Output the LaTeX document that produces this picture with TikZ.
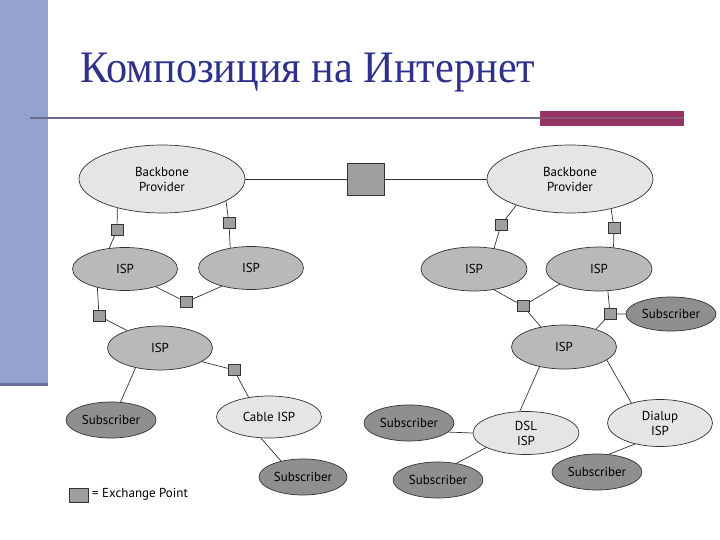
\documentclass[tikz,border=0pt]{standalone}
\usepackage{fontspec}
\setmainfont{Liberation Serif}
\newfontfamily\diagfont{PT Sans}
\usetikzlibrary{shapes.geometric}
\definecolor{barblue}{RGB}{148,162,206}
\definecolor{bardark}{RGB}{107,111,160}
\definecolor{rulegray}{RGB}{107,107,142}
\definecolor{rulered}{RGB}{148,50,100}
\definecolor{titleblue}{RGB}{46,49,140}
\begin{document}
\begin{tikzpicture}[x=1pt,y=-1pt,font=\diagfont\fontsize{13}{15}\selectfont]
\tikzstyle{e}=[ellipse,draw=black!80,line width=0.7pt,inner sep=0pt,align=center]
\tikzstyle{bb}=[e,fill=gray!20,minimum width=166pt,minimum height=68pt]
\tikzstyle{isp}=[e,fill=gray!55,minimum width=105pt,minimum height=43pt]
\tikzstyle{lt}=[e,fill=gray!20,minimum width=105pt,minimum height=43pt]
\tikzstyle{sub}=[e,fill=gray!88,minimum width=90pt,minimum height=36pt]
\tikzstyle{xp}=[draw=black!80,line width=0.6pt,fill=gray!75,minimum width=12pt,minimum height=11pt,inner sep=0pt]
\tikzstyle{w}=[draw=black!80,line width=0.7pt]
\useasboundingbox (0,0) rectangle (720,540);
% slide frame
\fill[barblue] (0,0) rectangle (48,383);
\fill[bardark] (0,383) rectangle (48,386);
\draw[rulegray,line width=2.5pt] (30,118) -- (540,118);
\fill[rulered] (540,111) rectangle (684,126);
\draw[rulered!55!gray,line width=2pt] (540,118) -- (684,118);
\node[font=\rmfamily\fontsize{45}{50}\selectfont,text=titleblue,anchor=base west,inner sep=0pt,xscale=0.94,transform shape] (title) at (80,83) {Композиция на Интернет};
% backbones
\node[bb] (bl) at (162,179) {Backbone\\Provider};
\node[bb] (br) at (570,179) {Backbone\\Provider};
\node[xp,minimum width=37pt,minimum height=32pt] (ex) at (366,179) {};
\draw[w] (bl.east) -- (ex) -- (br.west);
% exchange points
\foreach \n/\x/\y in {xa/117/230,xb/229/223,xc/186/302,xd/99/316,xe/234/370,xf/501/225,xg/614/228,xh/523/306,xi/610/314}
  \node[xp] (\n) at (\x,\y) {};
% left side
\node[isp] (i1) at (125,269) {ISP};
\node[isp] (i2) at (251,268) {ISP};
\node[isp,minimum height=44pt] (i3) at (160,348) {ISP};
\node[lt,minimum height=42pt] (cab) at (269,417) {Cable ISP};
\node[sub] (s1) at (111,420) {Subscriber};
\node[sub,minimum width=88pt] (s2) at (303,477) {Subscriber};
\draw[w] (bl.213) -- (xa) -- (i1.127);
\draw[w] (bl.341) -- (xb) -- (i2.136);
\draw[w] (i1.330) -- (xc) -- (i2.212);
\draw[w] (i1.214) -- (xd) -- (i3.152);
\draw[w] (i3.342) -- (xe) -- (cab.136);
\draw[w] (i3.219) -- (s1.62);
\draw[w] (cab.249) -- (s2.144);
% right side
\node[isp,minimum width=106pt,minimum height=44pt] (r1) at (474,269) {ISP};
\node[isp,minimum width=106pt,minimum height=44pt] (r2) at (599,269) {ISP};
\node[isp,minimum height=44pt] (r3) at (564,347) {ISP};
\node[sub,minimum height=34pt] (s3) at (671,314) {Subscriber};
\node[lt,minimum width=106pt] (dsl) at (526,433) {DSL\\ISP};
\node[lt,minimum height=47pt] (dia) at (660,423) {Dialup\\ISP};
\node[sub] (s4) at (409,423) {Subscriber};
\node[sub] (s5) at (438,480) {Subscriber};
\node[sub] (s6) at (597,472) {Subscriber};
\draw[w] (br.206) -- (xf) -- (r1.46);
\draw[w] (br.324) -- (xg) -- (r2.56);
\draw[w] (r1.314) -- (xh) -- (r2.201);
\draw[w] (xh) -- (r3.139);
\draw[w] (r2.292) -- (xi) -- (s3.west);
\draw[w] (xi) -- (r3.29);
\draw[w] (r3.219) -- (dsl.106);
\draw[w] (r3.343) -- (dia.145);
\draw[w] (s4.347) -- (dsl.west);
\draw[w] (dsl.200) -- (s5.42);
\draw[w] (dia.220) -- (s6.56);
% legend
\node[xp,minimum width=19pt,minimum height=14pt] (lg) at (78.5,495) {};
\node[anchor=west,inner sep=0pt,font=\diagfont\fontsize{13}{15}\selectfont] (lgt) at (92,494) {= Exchange Point};
\end{tikzpicture}
\end{document}
